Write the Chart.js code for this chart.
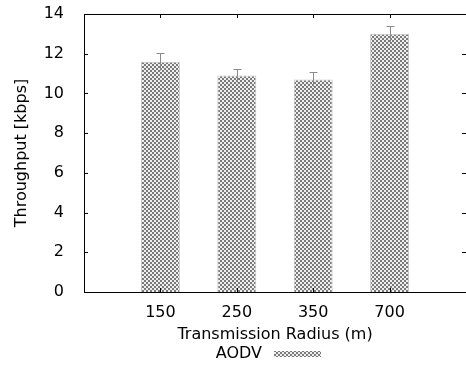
<!DOCTYPE html>
<html>
<head>
<meta charset="utf-8">
<script src="https://cdn.jsdelivr.net/npm/chart.js@4"></script>
<style>
  html, body { margin: 0; padding: 0; background: #fff; overflow: hidden; }
  #wrap { width: 466px; height: 366px; }
</style>
</head>
<body>
<div id="wrap"><canvas id="thr"></canvas></div>
<script>
const radius = ['150', '250', '350', '700'];
const throughput = [11.6, 10.9, 10.7, 13.0];
const errUp = [0.45, 0.35, 0.36, 0.4];
const yTicks = [0, 2, 4, 6, 8, 10, 12, 14];

// empty slots at both ends, like the original plot
const xLabels = [''].concat(radius, ['']);
const yData = [null].concat(throughput, [null]);
const eData = [null].concat(errUp, [null]);

function checker() {
    const c = document.createElement('canvas');
    c.width = 4; c.height = 4;
    const g = c.getContext('2d');
    g.fillStyle = '#efefef';
    g.fillRect(0, 0, 4, 4);
    g.fillStyle = '#7a7a7a';
    g.fillRect(0, 0, 2, 2);
    g.fillRect(2, 2, 2, 2);
    return g.createPattern(c, 'repeat');
}
const pat = checker();

const FONT = 'DejaVu Sans';

const decor = {
    id: 'decor',
    afterDatasetsDraw(chart) {
        const ctx = chart.ctx;
        const a = chart.chartArea;
        const x = chart.scales.x, y = chart.scales.y;
        ctx.save();
        // error bars
        ctx.strokeStyle = '#8a8a8a';
        ctx.lineWidth = 1;
        chart.getDatasetMeta(0).data.forEach((bar, i) => {
            if (yData[i] == null) return;
            const px = Math.round(bar.x) + 0.5;
            const top = Math.round(y.getPixelForValue(yData[i] + eData[i])) + 0.5;
            const bot = y.getPixelForValue(yData[i] - eData[i]);
            ctx.beginPath();
            ctx.moveTo(px, bot); ctx.lineTo(px, top);
            ctx.moveTo(px - 4, top); ctx.lineTo(px + 4, top);
            ctx.stroke();
        });
        // frame top + inward ticks
        ctx.strokeStyle = '#000';
        ctx.beginPath();
        ctx.moveTo(a.left, a.top + 0.5); ctx.lineTo(a.right, a.top + 0.5);
        yTicks.forEach(v => {
            const py = Math.round(y.getPixelForValue(v)) + 0.5;
            ctx.moveTo(a.left, py); ctx.lineTo(a.left + 4, py);
            ctx.moveTo(a.right, py); ctx.lineTo(a.right - 4, py);
        });
        for (let i = 1; i <= radius.length; i++) {
            const px = Math.round(x.getPixelForValue(i)) + 0.5;
            ctx.moveTo(px, a.top); ctx.lineTo(px, a.top + 4);
            ctx.moveTo(px, a.bottom); ctx.lineTo(px, a.bottom - 4);
        }
        ctx.stroke();
        // legend: text then swatch
        ctx.font = '16px "' + FONT + '"';
        ctx.fillStyle = '#000';
        ctx.textAlign = 'right';
        ctx.textBaseline = 'middle';
        ctx.fillText('AODV', 262, 354);
        ctx.fillStyle = pat;
        ctx.fillRect(274, 351, 47, 6);
        ctx.restore();
    }
};

new Chart('thr', {
    type: 'bar',
    data: {
        labels: xLabels,
        datasets: [{
            label: 'AODV',
            data: yData,
            backgroundColor: pat,
            borderColor: '#c4c4c4',
            borderWidth: 1,
            barPercentage: 0.51,
            categoryPercentage: 1
        }]
    },
    options: {
        responsive: true,
        maintainAspectRatio: false,
        animation: false,
        layout: { padding: { top: 14, right: 0, left: 0, bottom: 22 } },
        plugins: {
            legend: { display: false },
            tooltip: { enabled: false }
        },
        scales: {
            x: {
                offset: false,
                grid: { display: false },
                border: { color: '#000' },
                ticks: {
                    color: '#000',
                    font: { family: FONT, size: 16 },
                    maxRotation: 0,
                    autoSkip: false,
                    padding: 3
                },
                title: {
                    display: true,
                    text: 'Transmission Radius (m)',
                    color: '#000',
                    font: { family: FONT, size: 16 },
                    padding: { top: 8, bottom: 0 }
                },
                afterFit(s) { s.height = 52; s.paddingLeft = 0; s.paddingRight = 0; }
            },
            y: {
                min: 0,
                max: 14,
                grid: { display: false },
                border: { color: '#000' },
                afterBuildTicks(s) { s.ticks = yTicks.map(v => ({ value: v })); },
                ticks: {
                    color: '#000',
                    font: { family: FONT, size: 16 },
                    padding: 12
                },
                title: {
                    display: true,
                    text: 'Throughput [kbps]',
                    color: '#000',
                    font: { family: FONT, size: 16 },
                    padding: { top: 12, bottom: 0 }
                },
                afterFit(s) { s.width = 84; s.paddingTop = 0; s.paddingBottom = 0; }
            }
        }
    },
    plugins: [decor]
});
</script>
</body>
</html>
